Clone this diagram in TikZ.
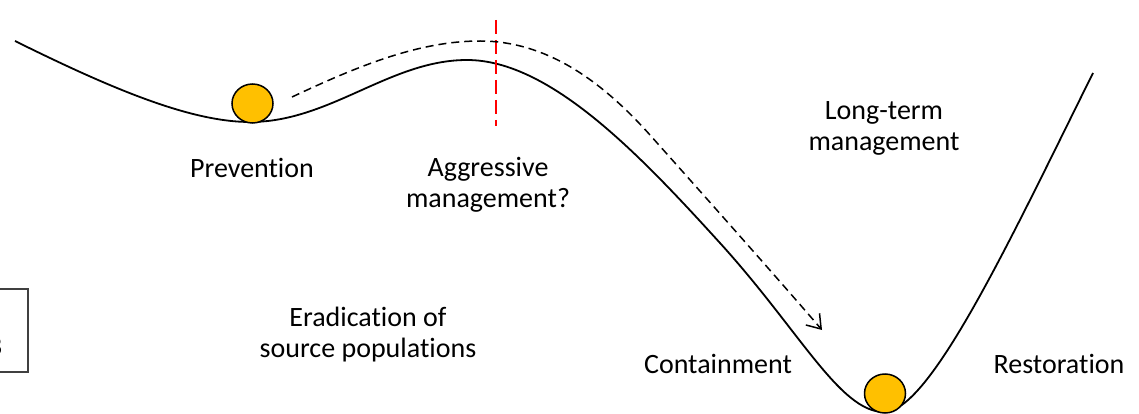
\documentclass[tikz,border=0pt]{standalone}
\usepackage{fontspec}
\setmainfont{Carlito}[Ligatures=NoCommon]
\usetikzlibrary{arrows.meta,shapes.geometric}
\definecolor{ballgold}{HTML}{FFC000}
\definecolor{redline}{HTML}{FF0000}
\tikzset{
  lbl/.style={font=\fontsize{28}{30.5}\selectfont, align=center, inner sep=0pt, anchor=base},
  ball/.style={ellipse, draw=black, line width=1.5pt, fill=ballgold, minimum width=41pt, minimum height=39pt, inner sep=0pt},
  landscape/.style={line width=1.8pt, black},
  pathline/.style={line width=1.5pt, black, dash pattern=on 8pt off 5pt, -{Straight Barb[length=13pt,width=18pt,line width=1.5pt]}},
  threshold/.style={line width=1.6pt, redline, dash pattern=on 14pt off 6pt}
}
\begin{document}
\begin{tikzpicture}[x=1pt,y=-1pt]
\useasboundingbox (0,0) rectangle (1139,414);
\begin{scope}
\clip (0,0) rectangle (1139,414);
% left cut-off box
\draw[black!75, line width=1.2pt] (-30,289) rectangle (28,372);
\node[lbl, anchor=base east] (bletter) at (2.5,355) {B};
\end{scope}
% landscape curve
\coordinate (c0) at (15,41);
\coordinate (c1) at (250,122);
\coordinate (c2) at (467,60);
\coordinate (c3) at (720,243);
\coordinate (c4) at (884,412);
\coordinate (c5) at (1093,73);
\draw[landscape] (c0) .. controls (110,88) and (190,122) .. (c1)
  .. controls (330,122) and (390,60) .. (c2)
  .. controls (550,60) and (640,155) .. (c3)
  .. controls (800,331) and (840,412) .. (c4)
  .. controls (930,412) and (1010,240) .. (c5);
% red threshold
\coordinate (rtop) at (496,20);
\coordinate (rbot) at (496,126);
\draw[threshold] (rtop) -- (rbot);
% dashed trajectory
\coordinate (dstart) at (292,97);
\coordinate (dpeak) at (480,41);
\coordinate (dmid) at (650,135);
\coordinate (dend) at (822,330);
\draw[pathline] (dstart) .. controls (360,65) and (420,41) .. (dpeak)
  .. controls (545,41) and (600,79) .. (dmid)
  .. controls (700,191) and (780,281) .. (dend);
% balls
\node[ball] (ball1) at (252.5,103.5) {};
\node[ball] (ball2) at (885,393.5) {};
% labels
\node[lbl] (prev) at (252,177) {Prevention};
\node[lbl] (aggr) at (488,207) {Aggressive\\management?};
\node[lbl] (long) at (884,150) {Long-term\\management};
\node[lbl] (erad) at (368,357) {Eradication of\\source populations};
\node[lbl] (cont) at (718,373) {Containment};
\node[lbl] (rest) at (1059,373) {Restoration};
\end{tikzpicture}
\end{document}
